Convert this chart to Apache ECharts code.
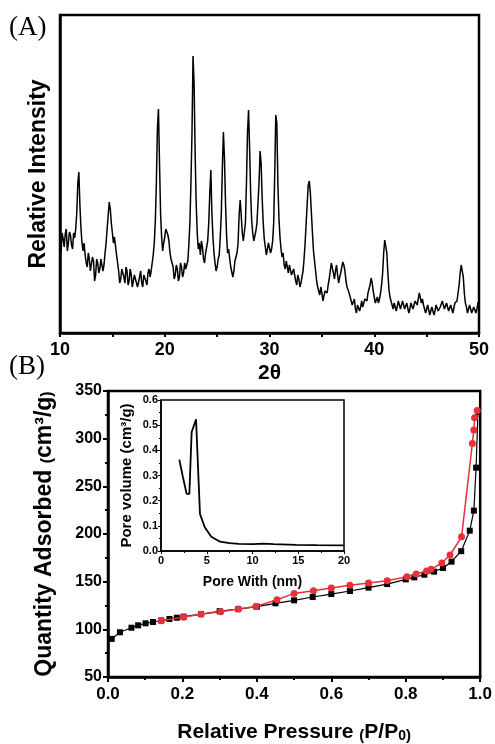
<!DOCTYPE html>
<html>
<head>
<meta charset="utf-8">
<script src="https://cdn.jsdelivr.net/npm/echarts@6/dist/echarts.min.js"></script>
<style>
html,body{margin:0;padding:0;background:#fff}
#main{width:495px;height:744px}
</style>
</head>
<body>
<div id="main"></div>
<script>
// (A) XRD scan, 2theta from 10 to 50 in 0.1 steps, one row per degree
var xrdStart = 10, xrdStep = 0.1;
var xrdI = [
  92,80,100,94,86,99,104,82,90,101,        // 10
  98,88,84,100,95,104,120,150,161,128,     // 11
  105,90,82,90,78,70,66,80,74,62,          // 12
  60,76,72,52,58,74,70,60,64,74,           // 13
  76,62,68,80,90,104,118,131,124,110,      // 14
  100,90,96,94,78,70,62,50,54,64,          // 15
  60,56,50,66,62,48,52,64,58,46,           // 16
  48,58,60,50,46,44,56,62,50,46,           // 17
  58,60,52,48,60,64,56,62,70,78,           // 18
  90,112,150,205,224,170,120,96,82,90,     // 19
  96,104,103,98,92,80,74,70,66,54,         // 20
  58,68,64,52,56,70,66,56,60,70,           // 21
  64,68,72,88,110,150,200,277,250,180,     // 22
  130,100,84,90,78,92,86,74,70,80,         // 23
  82,92,110,140,163,120,96,80,70,62,       // 24
  66,74,78,96,120,165,201,175,130,98,      // 25
  80,84,74,66,64,56,62,72,70,80,           // 26
  90,118,133,118,100,92,90,110,150,200,    // 27
  223,185,140,112,100,92,94,102,110,130,   // 28
  150,182,170,135,110,94,86,78,80,90,      // 29
  88,80,84,92,110,160,218,210,150,115,     // 30
  96,84,76,80,68,64,72,66,60,68,           // 31
  66,58,56,64,62,52,48,58,54,46,           // 32
  50,56,62,74,90,110,130,148,152,140,      // 33
  120,100,82,72,62,52,46,42,38,46,         // 34
  40,32,34,42,44,40,48,54,62,70,           // 35
  72,60,54,62,68,58,50,56,60,66,           // 36
  71,68,62,52,46,44,40,36,34,28,           // 37
  30,34,24,20,28,30,22,26,32,26,           // 38
  28,34,36,32,40,44,48,55,50,42,           // 39
  36,30,32,36,30,34,40,48,60,80,           // 40
  93,92,80,60,44,36,32,28,24,30,           // 41
  30,22,24,32,34,24,26,32,30,24,           // 42
  22,30,28,20,24,30,32,24,26,32,           // 43
  30,28,34,40,38,30,34,28,26,20,           // 44
  22,28,28,18,20,26,26,18,22,28,           // 45
  28,22,20,26,26,32,30,24,22,30,           // 46
  28,22,20,28,26,20,22,30,28,32,           // 47
  40,48,60,68,69,56,40,30,26,20,           // 48
  22,28,28,20,20,26,26,20,24,30,           // 49
  32                                       // 50
];

// (B) N2 isotherm
var adsP = [0.01,0.032,0.063,0.081,0.101,0.121,0.143,0.165,0.185,0.203,0.25,0.30,0.35,0.40,0.45,0.50,0.55,0.60,0.65,0.70,0.75,0.80,0.823,0.85,0.876,0.90,0.923,0.949,0.972,0.983,0.989,0.994];
var adsV = [90,96.9,101.7,104.2,106.3,107.7,109.3,110.9,112.2,113.3,116,119,121.2,123.8,127.3,130.4,133.9,137,140.2,143.7,147.5,152.4,154.5,157.3,160.5,164.4,171,182,203.5,224.5,269.6,328];
var desP = [0.143,0.203,0.25,0.303,0.35,0.397,0.454,0.50,0.552,0.60,0.65,0.70,0.75,0.803,0.828,0.856,0.868,0.897,0.919,0.95,0.979,0.983,0.985,0.992];
var desV = [109,112.8,115.8,118.5,121.4,124,131,137.7,140.5,143.4,146.2,148.6,151,155.2,158,161.2,163,169.6,178,197,295,309,322,329.5];

// inset: pore size distribution
var poreW = [2.0,2.4,2.8,3.1,3.35,3.83,4.26,4.8,5.5,6.45,7.5,8.5,10.1,11.2,12.3,14.8,17,20];
var poreV = [0.363,0.293,0.227,0.227,0.473,0.523,0.147,0.093,0.057,0.037,0.031,0.028,0.027,0.029,0.027,0.024,0.023,0.022];

function zip(a, b) {
  return a.map(function (v, i) { return [v, b[i]]; });
}
var xrd = xrdI.map(function (v, i) {
  return [+(xrdStart + i * xrdStep).toFixed(1), v];
});

var FONT = 'Liberation Sans, Arial, sans-serif';
var chart = echarts.init(document.getElementById('main'), null, {renderer: 'canvas'});

var tickStyle = function (size) {
  return {color: '#000', fontFamily: FONT, fontWeight: 'bold', fontSize: size};
};

var option = {
  animation: false,
  backgroundColor: '#fff',
  grid: [
    {left: 60, top: 15, width: 419, height: 318, show: true, borderColor: '#000', borderWidth: 2.5, backgroundColor: 'transparent'},
    {left: 108, top: 391, width: 375, height: 286, show: true, borderColor: '#000', borderWidth: 2.5, backgroundColor: 'transparent'},
    {left: 161, top: 400, width: 183, height: 151, show: true, borderColor: '#000', borderWidth: 1.5, backgroundColor: '#fff'}
  ],
  xAxis: [
    {
      gridIndex: 0, type: 'value', min: 10, max: 50, interval: 10,
      name: '2θ', nameLocation: 'middle', nameGap: 30,
      nameTextStyle: {color: '#000', fontFamily: FONT, fontWeight: 'bold', fontSize: 21},
      axisLine: {lineStyle: {color: '#000', width: 2.5}},
      axisTick: {length: 4, lineStyle: {color: '#000', width: 2}},
      minorTick: {show: true, splitNumber: 2, length: 4, lineStyle: {color: '#000', width: 2}},
      axisLabel: Object.assign({margin: 8}, tickStyle(18)),
      splitLine: {show: false}
    },
    {
      gridIndex: 1, type: 'value', min: 0, max: 1, interval: 0.2,
      name: 'Relative Pressure {s|(}P/P{sub|0}{s|)}', nameLocation: 'middle', nameGap: 45,
      nameTextStyle: {
        color: '#000', fontFamily: FONT, fontWeight: 'bold', fontSize: 21,
        rich: {
          s: {fontFamily: FONT, fontWeight: 'bold', fontSize: 15, color: '#000', verticalAlign: 'bottom'},
          sub: {fontFamily: FONT, fontWeight: 'bold', fontSize: 14, color: '#000', verticalAlign: 'bottom', padding: [6, 0, 0, 0]}
        }
      },
      axisLine: {lineStyle: {color: '#000', width: 2.5}},
      axisTick: {length: 5, lineStyle: {color: '#000', width: 2}},
      minorTick: {show: true, splitNumber: 2, length: 3, lineStyle: {color: '#000', width: 2}},
      axisLabel: Object.assign({margin: 9, formatter: function (v) { return v.toFixed(1); }}, tickStyle(17)),
      splitLine: {show: false}
    },
    {
      gridIndex: 2, type: 'value', min: 0, max: 20, interval: 5,
      name: 'Pore With (nm)', nameLocation: 'middle', nameGap: 24,
      nameTextStyle: {color: '#000', fontFamily: FONT, fontWeight: 'bold', fontSize: 14},
      axisLine: {lineStyle: {color: '#000', width: 1.5}},
      axisTick: {length: 3, lineStyle: {color: '#000', width: 1}},
      minorTick: {show: true, splitNumber: 2, length: 2, lineStyle: {color: '#000', width: 1}},
      axisLabel: Object.assign({margin: 4}, tickStyle(11)),
      splitLine: {show: false}
    }
  ],
  yAxis: [
    {
      gridIndex: 0, type: 'value', min: 0, max: 318,
      name: 'Relative Intensity', nameLocation: 'middle', nameGap: 10,
      nameTextStyle: {color: '#000', fontFamily: FONT, fontWeight: 'bold', fontSize: 23},
      axisLine: {lineStyle: {color: '#000', width: 2.5}},
      axisTick: {show: false}, axisLabel: {show: false}, splitLine: {show: false}
    },
    {
      gridIndex: 1, type: 'value', min: 50, max: 350, interval: 50,
      name: 'Quantity Adsorbed {s|(}cm³/g{s|)}', nameLocation: 'middle', nameGap: 52,
      nameTextStyle: {
        color: '#000', fontFamily: FONT, fontWeight: 'bold', fontSize: 23,
        rich: {s: {fontFamily: FONT, fontWeight: 'bold', fontSize: 16, color: '#000', verticalAlign: 'bottom'}}
      },
      axisLine: {lineStyle: {color: '#000', width: 2.5}},
      axisTick: {length: 5, lineStyle: {color: '#000', width: 2}},
      minorTick: {show: true, splitNumber: 2, length: 3, lineStyle: {color: '#000', width: 2}},
      axisLabel: Object.assign({margin: 6}, tickStyle(16)),
      splitLine: {show: false}
    },
    {
      gridIndex: 2, type: 'value', min: 0, max: 0.6, interval: 0.1,
      name: 'Pore volume (cm³/g)', nameLocation: 'middle', nameGap: 27,
      nameTextStyle: {color: '#000', fontFamily: FONT, fontWeight: 'bold', fontSize: 15},
      axisLine: {lineStyle: {color: '#000', width: 1.5}},
      axisTick: {length: 3, lineStyle: {color: '#000', width: 1}},
      minorTick: {show: true, splitNumber: 2, length: 2, lineStyle: {color: '#000', width: 1}},
      axisLabel: Object.assign({margin: 3, formatter: function (v) { return v.toFixed(1); }}, tickStyle(11)),
      splitLine: {show: false}
    }
  ],
  graphic: [
    {type: 'text', left: 9, top: 14, style: {text: '(A)', fill: '#000', font: '27px "Liberation Serif", "Times New Roman", serif'}},
    {type: 'text', left: 9, top: 353, style: {text: '(B)', fill: '#000', font: '27px "Liberation Serif", "Times New Roman", serif'}}
  ],
  series: [
    {
      type: 'line', xAxisIndex: 0, yAxisIndex: 0, data: xrd,
      symbol: 'none', lineStyle: {color: '#000', width: 1.5}, z: 2
    },
    {
      type: 'line', xAxisIndex: 1, yAxisIndex: 1, data: zip(adsP, adsV),
      symbol: 'rect', symbolSize: 6, itemStyle: {color: '#000'},
      lineStyle: {color: '#000', width: 1.2}, z: 2
    },
    {
      type: 'line', xAxisIndex: 1, yAxisIndex: 1, data: zip(desP, desV),
      symbol: 'circle', symbolSize: 7, itemStyle: {color: '#e8303a'},
      lineStyle: {color: '#e8303a', width: 1.5}, z: 3
    },
    {
      type: 'line', xAxisIndex: 2, yAxisIndex: 2, data: zip(poreW, poreV),
      symbol: 'none', lineStyle: {color: '#000', width: 1.8}, z: 5
    }
  ]
};

chart.setOption(option);
</script>
</body>
</html>
